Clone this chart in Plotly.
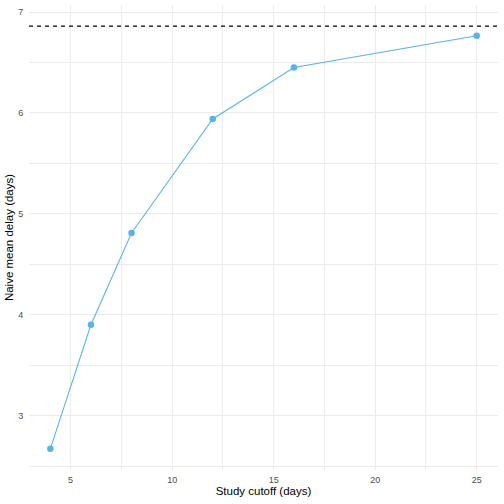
import plotly.graph_objects as go

cutoffs = [4, 6, 8, 12, 16, 25]
naive_mean = [2.67, 3.90, 4.81, 5.94, 6.45, 6.765]
true_mean = 6.86

x_ticks = [5, 10, 15, 20, 25]
y_ticks = [3, 4, 5, 6, 7]

FONT = "Liberation Sans, Arial, sans-serif"
BLUE = "#56B4E9"
GRID = "#EBEBEB"

fig = go.Figure()
fig.add_trace(go.Scatter(
    x=cutoffs, y=naive_mean, mode="lines+markers",
    line=dict(color=BLUE, width=1.07),
    marker=dict(color=BLUE, size=6.5),
    showlegend=False, hoverinfo="skip",
))
fig.add_shape(type="line", xref="paper", x0=0, x1=1, yref="y", y0=true_mean, y1=true_mean,
              line=dict(color="black", width=1.07, dash="4px,4px"))

span_x = max(cutoffs) - min(cutoffs)
ymin = min(naive_mean + [true_mean]); ymax = max(naive_mean + [true_mean])
span_y = ymax - ymin

fig.update_layout(
    width=504, height=504,
    margin=dict(l=29, r=6, t=5, b=34, autoexpand=False),
    paper_bgcolor="white", plot_bgcolor="white",
    font=dict(family=FONT, color="black"),
    xaxis=dict(
        automargin=False,
        range=[min(cutoffs) - 0.05 * span_x, max(cutoffs) + 0.05 * span_x],
        tickvals=x_ticks, ticktext=[str(v) for v in x_ticks],
        showgrid=True, gridcolor=GRID, gridwidth=1.07,
        minor=dict(dtick=2.5, tick0=0, showgrid=True, gridcolor=GRID, gridwidth=0.53),
        zeroline=False, showline=False,
        ticks="outside", ticklen=1, tickcolor="rgba(0,0,0,0)",
        tickfont=dict(size=9, color="#4D4D4D", family=FONT),
        title=dict(text="Study cutoff (days)", font=dict(size=11.5, color="black", family=FONT), standoff=0),
    ),
    yaxis=dict(
        automargin=False,
        range=[ymin - 0.05 * span_y, ymax + 0.05 * span_y],
        tickvals=y_ticks, ticktext=[str(v) for v in y_ticks],
        showgrid=True, gridcolor=GRID, gridwidth=1.07,
        minor=dict(dtick=0.5, tick0=0, showgrid=True, gridcolor=GRID, gridwidth=0.53),
        zeroline=False, showline=False,
        ticks="outside", ticklen=3, tickcolor="rgba(0,0,0,0)",
        tickfont=dict(size=9, color="#4D4D4D", family=FONT),
        title=dict(text="Naive mean delay (days)", font=dict(size=11.5, color="black", family=FONT), standoff=2),
    ),
)

fig.write_html("out.html", config={"displayModeBar": False},
               post_script="document.body.style.margin='0';document.body.style.padding='0';")
